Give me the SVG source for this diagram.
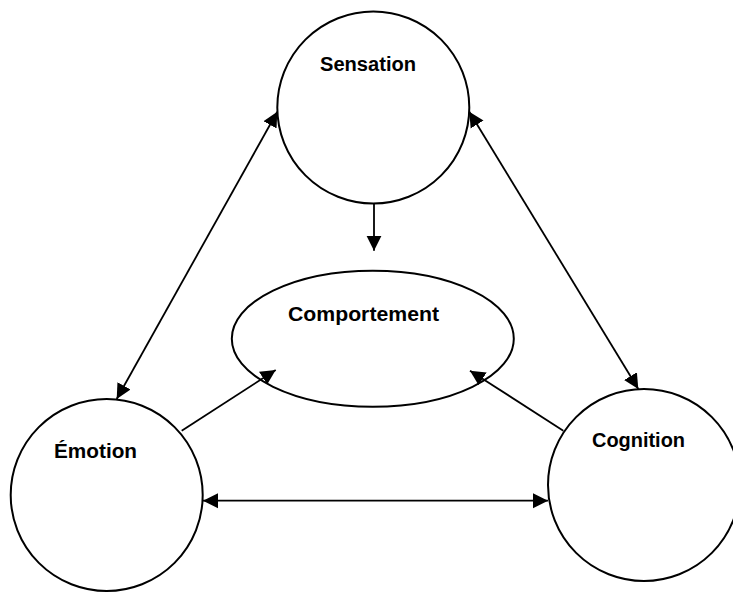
<svg xmlns="http://www.w3.org/2000/svg" width="733" height="593" viewBox="0 0 733 593">
<defs>
<style>
.node{fill:#fff;stroke:#000;stroke-width:2}
.lbl{font-family:"Liberation Sans",Arial,sans-serif;font-weight:bold;font-size:20px;fill:#000}
.edge{stroke:#000;stroke-width:1.8;fill:none}
</style>
<marker id="ah" markerUnits="userSpaceOnUse" markerWidth="16" markerHeight="16" refX="15" refY="7.5" orient="auto-start-reverse" viewBox="0 0 16 15">
<path d="M0,0 L15,7.5 L0,15 z" fill="#000"/>
</marker>
</defs>
<rect width="733" height="593" fill="#fff"/>
<g id="sensation">
<circle class="node" cx="373.3" cy="107.5" r="96"/>
<text class="lbl" x="320" y="71" textLength="96" lengthAdjust="spacingAndGlyphs">Sensation</text>
</g>
<g id="comportement">
<ellipse class="node" cx="372.8" cy="338.7" rx="141" ry="68"/>
<text class="lbl" x="288" y="321" textLength="151" lengthAdjust="spacingAndGlyphs">Comportement</text>
</g>
<g id="emotion">
<circle class="node" cx="106.7" cy="495" r="96"/>
<text class="lbl" x="54" y="458" textLength="83" lengthAdjust="spacingAndGlyphs">Émotion</text>
</g>
<g id="cognition">
<circle class="node" cx="644" cy="485" r="96"/>
<text class="lbl" x="592" y="447" textLength="93" lengthAdjust="spacingAndGlyphs">Cognition</text>
</g>
<g id="connectors">
<line class="edge" x1="277.3" y1="111.7" x2="116.7" y2="399" marker-start="url(#ah)" marker-end="url(#ah)"/>
<line class="edge" x1="469.3" y1="111.7" x2="638.3" y2="389" marker-start="url(#ah)" marker-end="url(#ah)"/>
<line class="edge" x1="374" y1="203.5" x2="374" y2="250.7" marker-end="url(#ah)"/>
<line class="edge" x1="181.7" y1="430.7" x2="275.7" y2="370" marker-end="url(#ah)"/>
<line class="edge" x1="563.3" y1="430.7" x2="470" y2="370.7" marker-end="url(#ah)"/>
<line class="edge" x1="203" y1="500.7" x2="548" y2="500.7" marker-start="url(#ah)" marker-end="url(#ah)"/>
</g>
</svg>
